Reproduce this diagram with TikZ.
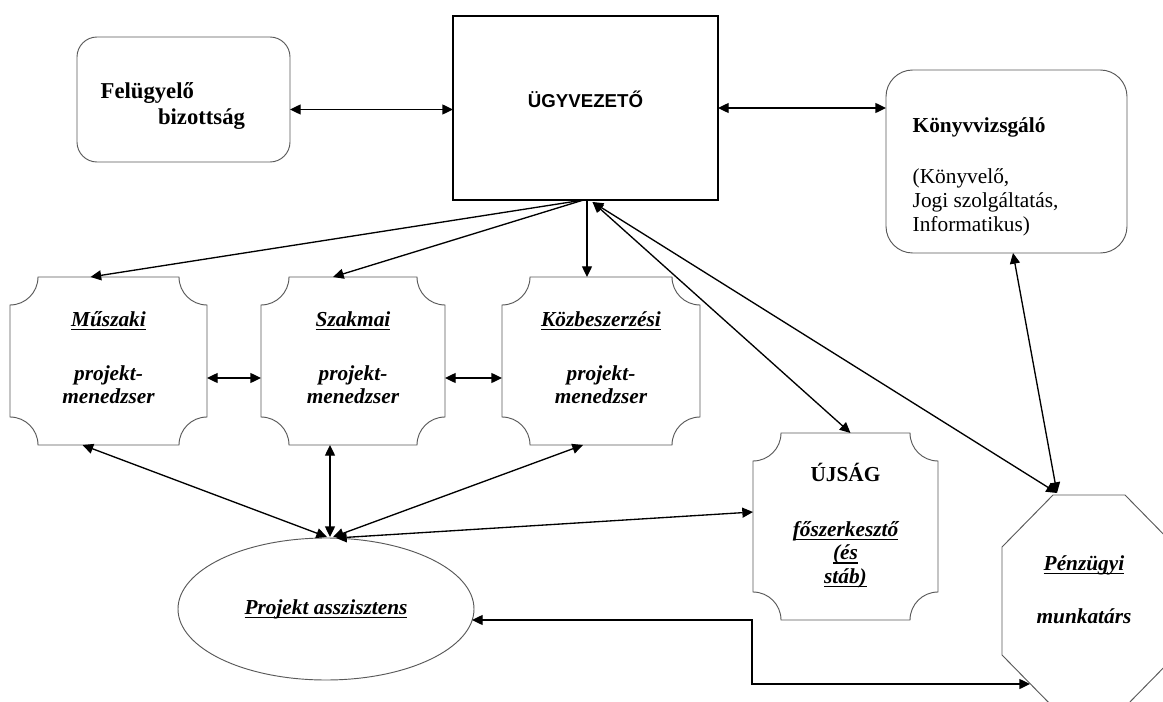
\documentclass[tikz,border=0pt]{standalone}
\usepackage{fontspec}
\setmainfont{Liberation Serif}
\newfontfamily\headsans{Liberation Sans}
\usetikzlibrary{arrows.meta,calc,fit,shapes.geometric}

% underline with a slightly heavier rule, kept in one box
\newsavebox\ulbox
\newcommand\ulx[1]{\leavevmode\sbox\ulbox{#1}\hbox{\rlap{\rule[-2.8pt]{\wd\ulbox}{0.9pt}}\usebox\ulbox}}
\newcommand\boxfont{\fontsize{16}{17}\selectfont}
\newcommand\sidefont{\fontsize{17}{17.5}\selectfont}
\newcommand\auditfont{\fontsize{16}{18}\selectfont}

% rectangle with concave (inward) rounded corners, drawn around a named node
\newcommand\plaque[1]{%
  \draw[outline] ($(#1.north west)+(28,0)$) -- ($(#1.north east)+(-28,0)$)
    arc[start angle=180,end angle=90,radius=28]
    -- ($(#1.south east)+(0,-28)$)
    arc[start angle=270,end angle=180,radius=28]
    -- ($(#1.south west)+(28,0)$)
    arc[start angle=0,end angle=-90,radius=28]
    -- ($(#1.north west)+(0,28)$)
    arc[start angle=90,end angle=0,radius=28] -- cycle;}

\begin{document}
\begin{tikzpicture}[x=0.75pt,y=-0.75pt,
  outline/.style={draw=black!65, line width=0.7pt},
  frame/.style={inner sep=0pt, outer sep=0pt},
  boxtext/.style={align=center, font=\boxfont\bfseries\itshape},
  link/.style={line width=1pt, >={Triangle[length=8pt,width=7.5pt]}},
]
\useasboundingbox (0,0) rectangle (1163,702);
\clip (0,0) rectangle (1163,702);
\fill[white] (0,0) rectangle (1163,702);

% top row
\node[frame, outline, rounded corners=15pt, fit={(77,37) (290,162)}] (fel) {};
\node[anchor=west, align=left, font=\sidefont\bfseries] (felt) at (96,106)
  {Felügyelő\\[2pt]\hspace*{43pt}bizottság};

\node[frame, draw=black, line width=1.6pt, fit={(453,16) (718,200)},
  font=\headsans\bfseries\fontsize{14}{16}\selectfont] (ugy) {ÜGYVEZETŐ};

\node[frame, outline, rounded corners=20pt, fit={(886,70) (1127,253)}] (konyv) {};
\node[anchor=west, align=left, font=\auditfont] (konyvt) at (908,177)
  {\textbf{Könyvvizsgáló}\\[20.7pt](Könyvelő,\\Jogi szolgáltatás,\\Informatikus)};

% project managers
\node[frame, fit={(10,277) (207,445)}] (mus) {};
\node[frame, fit={(261,277) (445,445)}] (szak) {};
\node[frame, fit={(502,277) (700,445)}] (kozb) {};
\plaque{mus}
\plaque{szak}
\plaque{kozb}
\node[boxtext] (must) at ($(mus.center)+(0,-3.5)$) {\ulx{Műszaki}\\[24pt]projekt-\\menedzser};
\node[boxtext] (szakt) at ($(szak.center)+(0,-3.5)$) {\ulx{Szakmai}\\[24pt]projekt-\\menedzser};
\node[boxtext] (kozbt) at ($(kozb.center)+(0,-3.5)$) {\ulx{Közbeszerzési}\\[24pt]projekt-\\menedzser};

% newspaper
\node[frame, fit={(753,433) (938,620)}] (ujsag) {};
\plaque{ujsag}
\node[boxtext] (ujsagt) at ($(ujsag.center)+(0,-1)$)
  {\textup{ÚJSÁG}\\[24.25pt]\ulx{főszerkesztő}\\[0.5pt]\ulx{(és}\\[0.5pt]\ulx{stáb)}};

% assistant
\node[frame, outline, ellipse, minimum width=222pt, minimum height=106.5pt,
  font=\boxfont\bfseries\itshape] (proj) at (326,609) {\ulx{Projekt asszisztens}};

% finance (octagon)
\node[frame, fit={(1002,495) (1176,707)}] (penz) {};
\draw[outline] ($(penz.north west)+(51,0)$) -- ($(penz.north east)+(-51,0)$)
  -- ($(penz.north east)+(0,52)$) -- ($(penz.south east)+(0,-52)$)
  -- ($(penz.south east)+(-51,0)$) -- ($(penz.south west)+(51,0)$)
  -- ($(penz.south west)+(0,-52)$) -- ($(penz.north west)+(0,52)$) -- cycle;
\node[boxtext] (penzt) at (1084,590) {\ulx{Pénzügyi}\\[23pt]munkatárs};
\coordinate (pztl) at ($(penz.north west)+(55,-2)$);
\coordinate (pzbl) at ($(penz.south west)+(28,-23)$);

% connectors
\draw[link,<->] ($(fel.east)+(0,10)$) -- ($(ugy.west)+(0,1.5)$);
\draw[link,<->] (ugy.east) -- ($(konyv.west)+(0,-53.5)$);
\draw[link,->] ($(ugy.south)+(-2,0)$) -- ($(mus.north)+(-18,0)$);
\draw[link,->] ($(ugy.south)+(-2,0)$) -- ($(szak.north)+(-20,0)$);
\draw[link,->] ($(ugy.south)+(1.5,0)$) -- ($(kozb.north)+(-14,0)$);
\draw[link,<->] ($(ujsag.north)+(5,0)$) -- ($(ugy.south)+(7,2)$);
\draw[link,<->] (pztl) -- ($(ugy.south)+(7,2)$);
\draw[link,<->] ($(konyv.south)+(6.5,0)$) -- (pztl);
\draw[link,<->] ($(mus.east)+(0,17)$) -- ($(szak.west)+(0,17)$);
\draw[link,<->] ($(szak.east)+(0,17)$) -- ($(kozb.west)+(0,17)$);
\draw[link,<->] ($(mus.south)+(-26,0)$) -- ($(proj.north)+(1,-1)$);
\draw[link,<->] ($(szak.south)+(-23,0)$) -- ($(proj.north)+(4,-1)$);
\draw[link,<->] ($(kozb.south)+(-18,0)$) -- ($(proj.north)+(7,-1)$);
\draw[link,<->] ($(ujsag.west)+(0,-14.5)$) -- ($(proj.north)+(10,0)$);
\draw[link,<->] ($(proj.east)+(-2,11)$) -- ++(280,0) |- (pzbl);
\end{tikzpicture}
\end{document}
